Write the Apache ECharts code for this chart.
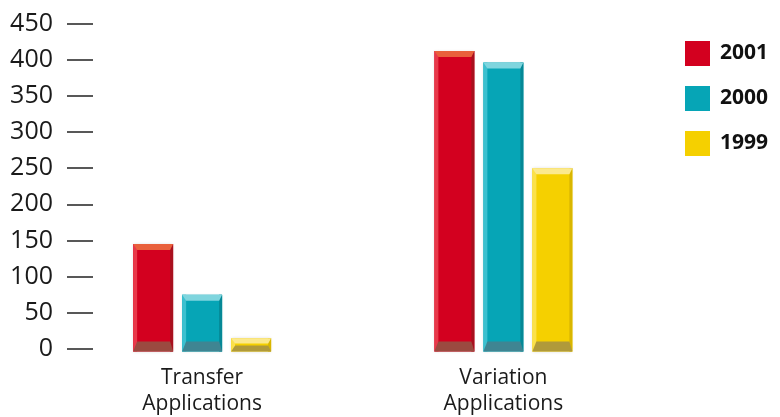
<!DOCTYPE html>
<html>
<head>
<meta charset="utf-8">
<style>
  html, body { margin: 0; padding: 0; background: #ffffff; }
  #chart { width: 780px; height: 417px; }
</style>
<script src="https://cdn.jsdelivr.net/npm/echarts@6/dist/echarts.min.js"></script>
</head>
<body>
<div id="chart"></div>
<script>
// Application counts by type and year
const categories = ['Transfer\nApplications', 'Variation\nApplications'];
const years = ['2001', '2000', '1999'];
const values2001 = [145, 412];
const values2000 = [75, 396];
const values1999 = [15, 250];
const yTicks = [0, 50, 100, 150, 200, 250, 300, 350, 400, 450];

// Face colours for each year: main, left highlight, right shade, top bevel, base band
const palettes = [
  { main: '#d3001f', light: '#e8394a', dark: '#a8101e', top: '#e9603c', base: '#9b4a40' },
  { main: '#06a5b6', light: '#3cc0cf', dark: '#058896', top: '#7fd5de', base: '#3f8592' },
  { main: '#f5d000', light: '#fbe14a', dark: '#d9b600', top: '#fbe98e', base: '#b09a3a' }
];
const seriesValues = [values2001, values2000, values1999];

const BAR_W = 40;
const BAR_STEP = 49;

function makeRender(idx) {
  const pal = palettes[idx];
  return function (params, api) {
    const cat = api.value(0);
    const val = api.value(1);
    const top = api.coord([cat, val]);
    const base = api.coord([cat, 0]);
    const cx = top[0] + (idx - 1) * BAR_STEP;
    const x0 = cx - BAR_W / 2;
    const y0 = top[1];
    const y1 = base[1] + 2.5;
    const h = y1 - y0;
    const bevel = Math.min(6, h * 0.4);
    const band = Math.min(10, h * 0.45);
    return {
      type: 'group',
      children: [
        { type: 'rect', shape: { x: x0, y: y0, width: BAR_W, height: h },
          style: { fill: pal.main, shadowBlur: 3, shadowColor: 'rgba(0,0,0,0.12)' } },
        { type: 'rect', shape: { x: x0, y: y0, width: 4, height: h },
          style: { fill: pal.light } },
        { type: 'rect', shape: { x: x0 + BAR_W - 3, y: y0, width: 3, height: h },
          style: { fill: pal.dark } },
        { type: 'polygon', shape: { points: [[x0, y0], [x0 + BAR_W, y0], [x0 + BAR_W - 3, y0 + bevel], [x0 + 4, y0 + bevel]] },
          style: { fill: pal.top } },
        { type: 'polygon', shape: { points: [[x0 + 4, y1 - band], [x0 + BAR_W - 3, y1 - band], [x0 + BAR_W, y1], [x0, y1]] },
          style: { fill: pal.base } }
      ]
    };
  };
}

const series = years.map((yr, i) => ({
  name: yr,
  type: 'custom',
  renderItem: makeRender(i),
  itemStyle: { color: palettes[i].main },
  encode: { x: 0, y: 1 },
  data: seriesValues[i].map((v, c) => [c, v]),
  z: 2
}));

const chart = echarts.init(document.getElementById('chart'), null, { renderer: 'canvas' });
chart.setOption({
  backgroundColor: '#ffffff',
  animation: false,
  textStyle: { fontFamily: '"Open Sans", sans-serif' },
  grid: { left: 51.5, right: 126, top: 23.5, bottom: 62.5, containLabel: false },
  legend: {
    orient: 'vertical',
    left: 680,
    top: 36,
    itemWidth: 25,
    itemHeight: 25,
    itemGap: 20,
    icon: 'rect',
    data: years,
    textStyle: { fontSize: 21, fontWeight: 'bold', color: '#111', padding: [0, 0, 0, 5], fontFamily: '"Open Sans", sans-serif' }
  },
  xAxis: {
    type: 'category',
    data: categories,
    axisLine: { show: false },
    axisTick: { show: false },
    axisLabel: { fontSize: 21, color: '#1a1a1a', lineHeight: 26, margin: 16, interval: 0 }
  },
  yAxis: {
    type: 'value',
    min: 0,
    max: 450,
    interval: 50,
    offset: -15.5,
    axisLine: { show: false },
    splitLine: { show: false },
    axisTick: { show: true, inside: true, length: 26, lineStyle: { color: '#222', width: 1.5 } },
    axisLabel: {
      fontSize: 25, color: '#1a1a1a', margin: 14,
      formatter: v => (yTicks.indexOf(v) >= 0 ? String(v) : '')
    }
  },
  series: series
});
</script>
</body>
</html>
